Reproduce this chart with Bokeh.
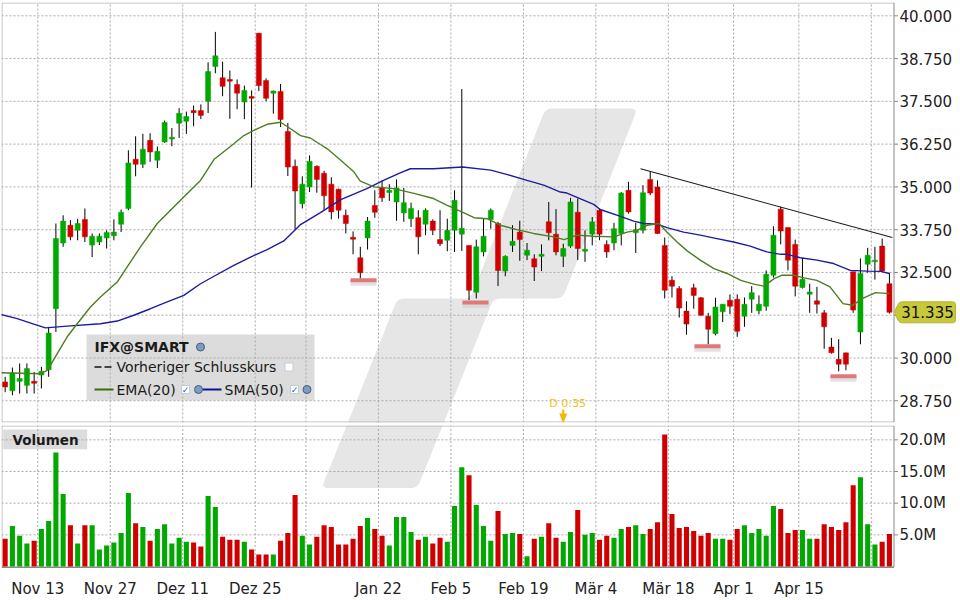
import math
from bokeh.plotting import figure
from bokeh.layouts import column
from bokeh.models import Range1d, FixedTicker
from bokeh.core.properties import value
from bokeh.embed import file_html
from bokeh.resources import INLINE

# ---------------- data ----------------
bar_idx = list(range(-5, 118))

open_ = [29.30, 29.04, 29.32, 29.20, 29.32, 29.50, 29.66, 31.44, 33.36, 33.88,
         33.73, 34.05, 33.30, 33.39, 33.51, 33.57, 33.91, 34.37, 35.81, 35.66,
         36.36, 35.78, 36.31, 36.40, 36.86, 36.92, 37.23, 37.23, 37.50, 38.52,
         38.19, 38.14, 37.99, 37.48, 37.64, 39.49, 38.11, 37.74, 37.79, 36.62,
         35.60, 34.51, 35.00, 35.60, 35.40, 35.08, 34.93, 34.17, 33.53, 32.93,
         33.51, 34.46, 34.98, 34.84, 34.56, 34.24, 34.07, 34.10, 33.91, 34.00,
         33.46, 33.44, 33.73, 33.62, 33.29, 31.92, 33.10, 34.05, 33.93, 32.54,
         33.29, 33.68, 33.00, 32.90, 32.97, 33.98, 33.62, 32.97, 33.27, 34.26,
         33.12, 33.62, 34.32, 33.32, 33.36, 33.64, 34.90, 33.66, 33.73, 35.22,
         35.00, 33.29, 32.27, 32.03, 31.37, 32.05, 31.76, 31.22, 30.71, 31.35,
         31.69, 31.72, 31.22, 31.72, 31.38, 31.51, 32.42, 34.35, 33.81, 33.32,
         32.06, 31.86, 31.67, 31.32, 30.32, 29.96, 30.15, 32.52, 30.76, 32.74,
         32.81, 33.27, 32.17]
high = [29.45, 29.72, 29.84, 29.84, 29.59, 29.74, 30.91, 33.93, 34.17, 34.03,
        34.07, 34.37, 33.64, 33.64, 33.73, 34.05, 34.34, 36.07, 36.48, 36.55,
        36.57, 36.18, 36.94, 36.72, 37.30, 37.20, 37.38, 37.41, 38.64, 39.53,
        38.66, 38.40, 38.14, 37.96, 37.82, 39.50, 38.17, 37.82, 38.01, 36.87,
        35.80, 35.31, 35.92, 35.63, 35.47, 35.28, 34.95, 34.34, 33.70, 33.25,
        34.12, 34.90, 35.19, 35.08, 35.22, 34.97, 34.54, 34.32, 34.37, 34.05,
        34.32, 34.07, 34.90, 37.86, 33.29, 33.46, 34.09, 34.37, 33.98, 33.00,
        33.88, 34.01, 33.36, 33.03, 33.32, 34.56, 34.35, 33.34, 34.68, 34.66,
        33.73, 34.12, 34.37, 33.44, 33.95, 34.85, 35.15, 33.95, 35.05, 35.46,
        35.19, 33.52, 32.39, 32.10, 31.66, 32.17, 31.78, 31.32, 31.76, 31.57,
        31.86, 31.86, 31.77, 32.10, 31.83, 32.56, 33.85, 34.42, 33.81, 33.46,
        32.93, 32.17, 32.08, 31.40, 30.59, 30.55, 30.15, 32.52, 32.91, 33.22,
        33.25, 33.49, 32.49]
low = [29.00, 28.91, 28.96, 28.96, 28.96, 29.11, 29.45, 30.76, 33.25, 33.44,
       33.44, 33.39, 32.95, 33.30, 33.20, 33.44, 33.68, 34.32, 35.31, 35.55,
       35.73, 35.55, 36.29, 36.19, 36.43, 36.55, 36.77, 36.98, 37.16, 38.32,
       37.65, 36.99, 37.27, 36.98, 34.98, 37.80, 37.50, 37.14, 36.75, 35.32,
       33.76, 34.37, 34.85, 34.83, 34.32, 34.05, 34.07, 33.64, 33.03, 32.32,
       33.17, 34.10, 34.56, 34.59, 34.01, 33.98, 33.83, 33.03, 33.59, 33.59,
       33.27, 33.12, 33.10, 33.13, 31.69, 31.74, 32.97, 33.78, 32.10, 32.39,
       33.10, 32.84, 32.86, 32.25, 32.54, 33.44, 33.00, 32.66, 33.22, 32.86,
       32.81, 33.29, 33.44, 32.93, 33.15, 33.29, 34.22, 33.07, 33.64, 34.76,
       33.62, 31.74, 31.77, 31.18, 30.68, 31.44, 31.23, 30.40, 30.66, 31.05,
       31.28, 30.62, 30.91, 31.32, 31.28, 31.38, 32.35, 33.32, 32.56, 31.80,
       32.03, 31.32, 31.30, 30.27, 30.13, 29.61, 29.64, 31.32, 30.40, 32.49,
       32.29, 32.52, 31.30]
close = [29.155, 29.56, 29.40, 29.69, 29.26, 29.61, 30.73, 33.49, 34.00, 33.54,
         33.93, 33.54, 33.56, 33.56, 33.67, 33.68, 34.26, 35.70, 35.66, 36.10,
         36.02, 36.04, 36.88, 36.45, 37.15, 37.06, 37.17, 37.09, 38.37, 38.83,
         37.94, 38.09, 37.74, 37.82, 37.59, 37.96, 37.59, 37.80, 36.97, 35.58,
         34.88, 35.08, 35.75, 35.22, 34.74, 34.27, 34.32, 33.93, 33.47, 32.49,
         34.00, 34.26, 34.68, 34.90, 34.97, 34.54, 34.37, 33.54, 34.32, 33.73,
         33.34, 33.73, 34.61, 33.79, 31.98, 33.25, 33.56, 34.32, 32.56, 32.97,
         33.41, 33.46, 33.15, 32.66, 33.03, 33.66, 33.10, 33.20, 34.56, 33.20,
         33.18, 33.98, 33.62, 33.10, 33.78, 34.82, 34.27, 33.75, 34.83, 34.82,
         33.64, 31.98, 32.10, 31.46, 30.99, 31.83, 31.25, 30.84, 31.49, 31.57,
         31.51, 30.78, 31.57, 31.91, 31.57, 32.45, 33.59, 33.71, 32.86, 32.10,
         32.30, 31.93, 31.57, 30.91, 30.15, 29.82, 29.82, 31.40, 32.47, 33.00,
         32.86, 32.54, 31.335]
volume_m = [4.39, 6.38, 4.85, 3.62, 4.08, 5.92, 7.20, 18.02, 11.43, 6.53,
            3.62, 6.53, 6.53, 2.70, 3.32, 3.78, 5.31, 11.59, 6.84, 6.22,
            4.08, 5.92, 6.68, 3.62, 4.54, 3.93, 3.78, 3.16, 11.12, 9.39,
            4.69, 4.23, 4.23, 3.93, 2.70, 1.90, 1.90, 1.90, 4.08, 5.31,
            11.28, 4.85, 3.47, 4.69, 6.53, 6.22, 3.47, 3.47, 4.39, 6.38,
            7.67, 5.92, 4.85, 3.32, 7.83, 7.83, 5.46, 4.23, 4.69, 3.62,
            4.54, 3.93, 9.55, 15.67, 14.41, 9.71, 6.38, 4.08, 8.77, 5.15,
            5.31, 5.15, 1.63, 4.39, 4.69, 6.84, 4.54, 3.93, 5.46, 8.92,
            5.00, 5.31, 4.23, 4.85, 4.54, 5.92, 6.22, 6.53, 5.15, 5.92,
            6.99, 20.84, 8.30, 6.07, 6.22, 5.61, 4.85, 5.31, 4.39, 4.39,
            4.23, 5.92, 6.53, 5.31, 5.92, 4.85, 9.55, 9.08, 5.31, 5.77,
            5.77, 4.39, 4.39, 6.68, 6.22, 5.77, 6.99, 12.84, 14.10, 6.68,
            3.47, 3.93, 5.15]

ema_x = [-5.6, -0.12, 0.8, 1.26, 2.18, 3.56, 4.94, 6.77, 8.15, 10.46, 11.84, 13.67, 15.98,
         19.19, 21.95, 23.8, 26.55, 27.93, 29.3, 31.15, 33.0, 34.37, 35.75, 37.1, 38.5,
         39.4, 41.3, 43.1, 44.0, 45.9, 48.6, 51.4, 54.1, 56.0, 58.3, 59.7, 61.5, 63.3,
         65.6, 67.9, 70.7, 72.1, 73.9, 76.2, 79.0, 80.8, 82.2, 83.6, 85.2, 86.3, 87.7,
         89.1, 90.9, 92.8, 94.6, 96.5, 98.3, 99.7, 101.1, 102.2, 103.8, 105.2, 107.0,
         108.8, 110.6, 111.9, 113.3, 115.1, 117.0]
ema_y = [29.57, 29.54, 29.64, 29.79, 30.13, 30.62, 31.00, 31.49, 31.78, 32.22, 32.66, 33.25, 33.93,
         34.61, 35.19, 35.80, 36.26, 36.50, 36.65, 36.83, 36.89, 36.70, 36.50, 36.43, 36.24,
         36.12, 35.78, 35.44, 35.17, 35.00, 34.95, 34.81, 34.66, 34.46, 34.24, 34.10, 34.07, 33.88,
         33.75, 33.64, 33.54, 33.46, 33.59, 33.56, 33.54, 33.68, 33.73, 33.88, 33.93, 33.68, 33.39,
         33.13, 32.86, 32.61, 32.47, 32.27, 32.16, 32.10, 32.32, 32.42, 32.42, 32.34, 32.27,
         32.08, 31.59, 31.54, 31.74, 31.91, 31.88]
sma_x = [-5.6, -3.34, -1.05, 0.57, 3.56, 8.15, 10.46, 12.75, 15.05, 17.36, 19.65, 21.95, 24.25,
         26.55, 28.85, 31.15, 33.44, 35.1, 35.75, 38.5, 41.3, 44.9, 47.2, 49.5, 50.9, 54.1,
         58.1, 62.0, 64.3, 67.0, 69.3, 71.6, 72.5, 76.2, 77.1, 79.9, 81.7, 83.1, 85.0, 86.3,
         88.6, 90.9, 93.2, 95.5, 97.8, 100.1, 102.0, 102.9, 104.7, 107.0, 109.3, 111.6, 113.9,
         115.8, 117.0]
sma_y = [31.27, 31.15, 30.99, 30.88, 30.93, 31.00, 31.08, 31.25, 31.44, 31.64, 31.83, 32.17, 32.44,
         32.71, 32.95, 33.17, 33.42, 33.76, 33.90, 34.25, 34.63, 34.95, 35.19, 35.41, 35.53, 35.53,
         35.58, 35.49, 35.36, 35.19, 35.05, 34.85, 34.82, 34.49, 34.34, 34.14, 34.00, 33.93, 33.91, 33.81,
         33.68, 33.59, 33.49, 33.39, 33.27, 33.10, 33.03, 33.03, 32.93, 32.86, 32.76, 32.56, 32.54,
         32.53, 32.47]

trend_x = [82.66, 117.4]
trend_y = [35.53, 33.52]

support_x = [44.44, 59.89, 91.9, 110.66]
support_y = [32.27, 31.62, 30.345, 29.47]

dividend_x = 72.0
dividend_text = "D 0:35"
last_price = 31.335

date_ticks = [-0.5, 9.5, 19.5, 29.5, 36.5, 46.5, 56.5, 66.5, 76.5, 86.5, 95.5, 104.5, 114.5]
date_labels = ["Nov 13", "Nov 27", "Dez 11", "Dez 25", "", "Jan 22", "Feb 5", "Feb 19",
               "Mär 4", "Mär 18", "Apr 1", "Apr 15", ""]
price_ticks = [28.75, 30.0, 31.25, 32.5, 33.75, 35.0, 36.25, 37.5, 38.75, 40.0]
price_labels = ["28.750", "30.000", "", "32.500", "33.750", "35.000", "36.250", "37.500",
                "38.750", "40.000"]
vol_ticks = [5, 10, 15, 20]
vol_labels = ["5.0M", "10.0M", "15.0M", "20.0M"]

# ---------------- layout geometry (pixels) ----------------
FONT = "DejaVu Sans"
W = 960
FL = 1            # frame left
AX = 893.5        # right price/volume axis line
H1, H2 = 423, 177
PT, PB = 2, 422   # price frame top/bottom
VT, VB = 425, 570 # volume frame top/bottom (page coords)
X0, DX = 40.9, 7.248        # pixel of bar 0, pixels per bar
X_START, X_END = (FL - X0) / DX, (W - X0) / DX
P_START, P_END = 28.115, 40.389
VOL0_PX, VOL_PPM = 567.0, 6.378   # pixel of zero volume, pixels per million
V_START = (VOL0_PX - VB) / VOL_PPM
V_END = (VOL0_PX - VT) / VOL_PPM

GREEN = "#00a800"
RED = "#d00000"
GRID = "#aaaaaa"
AXC = "#8a8a8a"
BORDER = "#b8b8b8"
PPU = (PB - PT) / (P_END - P_START)


def sx(px):
    return (px - X0) / DX


def sp(py):
    return P_END - (py - PT) / PPU


def py_of(price):
    return PT + (P_END - price) * PPU


def sv(py):
    return (VOL0_PX - py) / VOL_PPM


def rounded(poly, r=7, n=6):
    out = []
    N = len(poly)
    for k in range(N):
        p0, p1, p2 = poly[k - 1], poly[k], poly[(k + 1) % N]
        d1 = (p0[0] - p1[0], p0[1] - p1[1])
        d2 = (p2[0] - p1[0], p2[1] - p1[1])
        l1, l2 = math.hypot(*d1), math.hypot(*d2)
        r1, r2 = min(r, l1 / 2), min(r, l2 / 2)
        a = (p1[0] + d1[0] / l1 * r1, p1[1] + d1[1] / l1 * r1)
        b = (p1[0] + d2[0] / l2 * r2, p1[1] + d2[1] / l2 * r2)
        for j in range(n + 1):
            t = j / n
            x = (1 - t) ** 2 * a[0] + 2 * (1 - t) * t * p1[0] + t ** 2 * b[0]
            y = (1 - t) ** 2 * a[1] + 2 * (1 - t) * t * p1[1] + t ** 2 * b[1]
            out.append((x, y))
    return out


WM = rounded([(545, 108), (637, 108), (562, 298), (493, 298), (417, 488),
              (321, 488), (397, 298), (470, 298)])

x_rng = Range1d(X_START, X_END)


def base_style(fig):
    fig.background_fill_color = "white"
    fig.border_fill_color = "white"
    fig.outline_line_color = None
    fig.xgrid.visible = False
    fig.ygrid.visible = False


def draw_frame(fig, ymap, top_px, bot_px, hticks, hlabels, vlo, vhi):
    xl, xr = sx(FL), sx(AX)
    g1 = fig.segment([xl] * len(hticks), hticks, [xr] * len(hticks), hticks,
                     line_color=GRID, line_dash="2 2", line_width=1)
    g2 = fig.segment(date_ticks, [vlo] * len(date_ticks), date_ticks, [vhi] * len(date_ticks),
                     line_color=GRID, line_dash="2 2", line_width=1)
    g1.level = "underlay"
    g2.level = "underlay"
    fig.segment([xl, sx(FL + 0.5)], [ymap(top_px + 0.5), ymap(top_px)],
                [xr, sx(FL + 0.5)], [ymap(top_px + 0.5), ymap(bot_px)],
                line_color=BORDER, line_width=1)
    fig.segment([xr], [ymap(top_px)], [xr], [ymap(bot_px)], line_color=AXC, line_width=1)
    fig.segment([xr] * len(hticks), hticks, [sx(AX + 4)] * len(hticks), hticks,
                line_color=AXC, line_width=1)
    fig.text(x=[sx(899)] * len(hticks), y=hticks, text=hlabels, text_align="left",
             text_baseline="middle", text_font=value(FONT), text_font_size="15px",
             text_color="#222222")


def txt(fig, x, y, t, size="14px", bold=False, color="#1a1a1a", align="left"):
    fig.text(x=[x], y=[y], text=[t], text_align=align, text_baseline="middle",
             text_font=value(FONT), text_font_size=size, text_color=color,
             text_font_style="bold" if bold else "normal")


# ---------------- price panel ----------------
p = figure(width=W, height=H1, x_range=x_rng, y_range=Range1d(P_START, P_END),
           output_backend="svg", toolbar_location=None, x_axis_location=None,
           y_axis_location=None, min_border_left=FL, min_border_right=0,
           min_border_top=PT, min_border_bottom=H1 - PB)
base_style(p)

wm = p.patch([sx(a) for a, b in WM], [sp(b) for a, b in WM], fill_color="#e6e6e6",
             line_color=None)
wm.level = "image"
lb = p.quad(left=[sx(86)], right=[sx(314)], top=[sp(334)], bottom=[sp(400)],
            fill_color="#dcdcdc", line_color=None)
lb.level = "image"

draw_frame(p, sp, PT, PB, price_ticks, price_labels, P_START, P_END)
p.segment([sx(FL)], [sp(421.5)], [sx(AX)], [sp(421.5)], line_color=BORDER, line_width=1)

up = [c >= o for o, c in zip(open_, close)]
cols = [GREEN if u else RED for u in up]
p.segment(bar_idx, high, bar_idx, low, line_color="black", line_width=1)
p.vbar(x=bar_idx, width=0.7, top=[max(o, c) for o, c in zip(open_, close)],
       bottom=[min(o, c) for o, c in zip(open_, close)], fill_color=cols, line_color=cols,
       line_width=0.5)

p.line(sma_x, sma_y, line_color="#1c1ca0", line_width=1.4)
p.line(ema_x, ema_y, line_color="#4e7d22", line_width=1.4)
p.line(trend_x, trend_y, line_color="#1a1a1a", line_width=1.1)

p.rect(x=support_x, y=[v - 3.0 / PPU for v in support_y], width=3.6, height=5,
       height_units="screen", fill_color="#cfcfcf", fill_alpha=0.6, line_color=None)
p.rect(x=support_x, y=support_y, width=3.6, height=4, height_units="screen",
       fill_color="#e07878", line_color=None)

# dividend marker
txt(p, dividend_x + 0.6, sp(402.5), dividend_text, size="11px", color="#f2c016",
    align="center")
p.segment([dividend_x], [sp(409)], [dividend_x], [sp(416)], line_color="#f5b800", line_width=2)
p.patch([dividend_x - 4.0 / DX, dividend_x + 4.0 / DX, dividend_x],
        [sp(413), sp(413), sp(423)], fill_color="#f5b800", line_color=None)

# legend contents
txt(p, sx(94), sp(346.5), "IFX@SMART", bold=True)
txt(p, sx(116), sp(366.5), "Vorheriger Schlusskurs")
txt(p, sx(116), sp(389), "EMA(20)")
txt(p, sx(224), sp(389), "SMA(50)")
p.line([sx(94), sx(113)], [sp(366.5)] * 2, line_color="#444444", line_width=2, line_dash="7 3")
p.line([sx(94), sx(113)], [sp(389)] * 2, line_color="#3d6b10", line_width=2)
p.line([sx(202), sx(221)], [sp(389)] * 2, line_color="#10109a", line_width=2)
p.scatter([sx(200), sx(198), sx(306.5)], [sp(346.5), sp(389), sp(389)], marker="circle",
          size=8, fill_color="#7f9cc0", line_color="#3e5f88", line_width=1)
p.scatter([sx(288.5), sx(185), sx(294)], [sp(366.5), sp(389), sp(389)], marker="square",
          size=8, fill_color="white", line_color="#c0ccd8", line_width=1)
for cx in (185, 294):
    txt(p, sx(cx), sp(389.5), "✓", size="9px", bold=True, color="#1565d8", align="center")

# last price tag over the axis
cy = py_of(last_price)
tag = rounded([(AX, cy), (899, cy - 10.5), (955, cy - 10.5), (955, cy + 10.5),
               (899, cy + 10.5)], r=3, n=4)
p.patch([sx(a) for a, b in tag], [sp(b) for a, b in tag], fill_color="#c8c83c",
        line_color="#b4b430", line_width=1)
txt(p, sx(927), last_price, f"{last_price:.3f}", size="15px", color="#111111",
    align="center")

# ---------------- volume panel ----------------
v = figure(width=W, height=H2, x_range=x_rng, y_range=Range1d(V_START, V_END),
           output_backend="svg", toolbar_location=None, x_axis_location="below",
           y_axis_location=None, min_border_left=FL, min_border_right=0,
           min_border_top=VT - H1, min_border_bottom=H1 + H2 - VB)
base_style(v)
xa = v.xaxis[0]
xa.ticker = FixedTicker(ticks=date_ticks)
xa.major_label_overrides = {t: l for t, l in zip(date_ticks, date_labels)}
xa.axis_line_color = None
xa.major_tick_line_color = None
xa.minor_tick_line_color = None
xa.major_label_standoff = 4
xa.major_label_text_font = FONT
xa.major_label_text_font_size = "15px"
xa.major_label_text_color = "#222222"

wm2 = v.patch([sx(a) for a, b in WM], [sv(b) for a, b in WM], fill_color="#e6e6e6",
              line_color=None)
wm2.level = "image"
vb = v.quad(left=[sx(2.7)], right=[sx(86.7)], top=[sv(429)], bottom=[sv(449)],
            fill_color="#dcdcdc", line_color=None)
vb.level = "image"

draw_frame(v, sv, VT, 567.5, vol_ticks, vol_labels, sv(567.5), V_END)
v.segment([sx(FL)], [sv(567.8)], [sx(AX)], [sv(567.8)], line_color=AXC, line_width=1.5)

v.vbar(x=bar_idx, width=0.7, top=volume_m, bottom=0, fill_color=cols, line_color=None)
txt(v, sx(12), sv(439.5), "Volumen", size="13.5px", bold=True)

layout = column(p, v, spacing=0)
open("out.html", "w").write(file_html(layout, INLINE))
